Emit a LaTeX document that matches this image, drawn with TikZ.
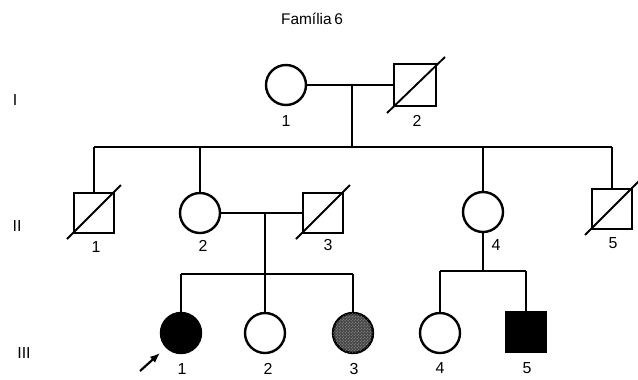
\documentclass[tikz,border=0pt]{standalone}
\usepackage{fontspec}
\setmainfont{Liberation Sans}
\usetikzlibrary{arrows.meta,patterns}
\begin{document}
\begin{tikzpicture}[x=1bp,y=-1bp,
  shape line/.style={line width=2.4bp},
  conn/.style={line width=1.9bp},
  female/.style={circle,draw,shape line,minimum size=40bp,inner sep=0pt},
  male/.style={rectangle,draw,shape line,minimum size=40bp,inner sep=0pt},
  dead/.style={line width=1.9bp},
  lbl/.style={font=\fontsize{16}{16}\selectfont,inner sep=0pt},
  gen/.style={font=\fontsize{16}{16}\selectfont,inner sep=0pt}]
\useasboundingbox (0,0) rectangle (638,379);
\node[font=\fontsize{15.5}{15.5}\selectfont,inner sep=0pt] (title) at (312,19) {Família\,6};
% generation labels
\node[gen] (gI) at (15,100) {I};
\node[gen] (gII) at (17,226) {II};
\node[gen] (gIII) at (24,353) {III};
% Generation I
\node[female] (I1) at (286,85) {};
\node[male,minimum size=42bp] (I2) at (415,85) {};
\draw[dead] ([shift={(-28,28)}]I2.center) coordinate (I2a) -- ([shift={(30,-28)}]I2.center) coordinate (I2b);
\node[lbl] (lI1) at (286,121) {1};
\node[lbl] (lI2) at (417,121) {2};
\coordinate (mI) at (352,85);
\draw[conn] (I1.east) -- (I2.west);
\coordinate (sI) at (352,147);
\draw[conn] (mI) -- (sI);
% Generation II
\node[male] (II1) at (94,213) {};
\node[female] (II2) at (200,213) {};
\node[male] (II3) at (323,213) {};
\node[female] (II4) at (483,212) {};
\node[male] (II5) at (612,209) {};
\foreach \n in {II1,II3,II5}
  \draw[dead] ([shift={(-27,26)}]\n.center) -- ([shift={(27,-28)}]\n.center);
\node[lbl] (lII1) at (96,247) {1};
\node[lbl] (lII2) at (203,246) {2};
\node[lbl] (lII3) at (328,245) {3};
\node[lbl] (lII4) at (496,245) {4};
\node[lbl] (lII5) at (613,243) {5};
\coordinate (s1) at (94,147);
\coordinate (s5) at (612,147);
\draw[conn] (s1) -- (s5);
\draw[conn] (s1) -- (II1.north);
\draw[conn] (II2.north |- s1) -- (II2.north);
\draw[conn] (II4.north |- s1) -- (II4.north);
\draw[conn] (s5) -- (II5.north);
% marriage II2 x II3
\draw[conn] (II2.east) -- (II3.west);
\coordinate (mII) at (265,213);
\coordinate (sII) at (265,274);
\draw[conn] (mII) -- (sII);
% Generation III
\node[female,fill=black] (III1) at (181,333) {};
\node[female] (III2) at (265,333) {};
\node[female,fill=black!72,postaction={pattern=crosshatch dots,pattern color=black!35}] (III3) at (353,333) {};
\node[female] (III4) at (440,333) {};
\node[male,fill=black] (III5) at (526,332) {};
\node[lbl] (lIII1) at (182,369) {1};
\node[lbl] (lIII2) at (268,369) {2};
\node[lbl] (lIII3) at (354,369) {3};
\node[lbl] (lIII4) at (440,368) {4};
\node[lbl] (lIII5) at (527,368) {5};
\draw[conn] (III1.north |- sII) -- (III3.north |- sII);
\draw[conn] (III1.north |- sII) -- (III1.north);
\draw[conn] (III2.north |- sII) -- (III2.north);
\draw[conn] (III3.north |- sII) -- (III3.north);
% II4 children
\coordinate (sII4) at (483,271);
\draw[conn] (II4.south) -- (sII4);
\draw[conn] (III4.north |- sII4) -- (III5.north |- sII4);
\draw[conn] (III4.north |- sII4) -- (III4.north);
\draw[conn] (III5.north |- sII4) -- (III5.north);
% proband arrow
\coordinate (arr) at (140,371);
\draw[line width=2.2bp,-{Latex[length=10bp,width=8bp]}] (arr) -- ([shift={(-21,20)}]III1.center);
\end{tikzpicture}
\end{document}
